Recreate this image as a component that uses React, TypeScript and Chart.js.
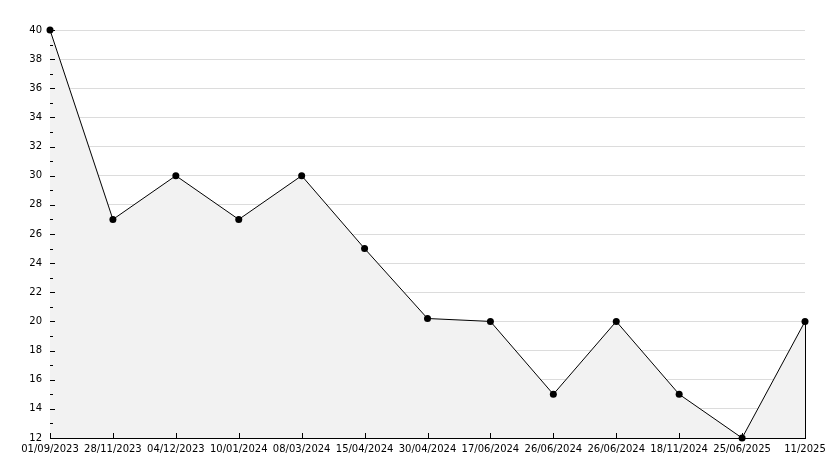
import React, { useEffect, useRef } from "react";
import { Chart, registerables } from "chart.js";

Chart.register(...registerables);

const categories = [
  "01/09/2023", "28/11/2023", "04/12/2023", "10/01/2024", "08/03/2024",
  "15/04/2024", "30/04/2024", "17/06/2024", "26/06/2024", "26/06/2024",
  "18/11/2024", "25/06/2025", "11/2025",
];
const values = [40, 27, 30, 27, 30, 25, 20.2, 20, 15, 20, 15, 12, 20];
const yMin = 12;
const yMax = 40;
const yStep = 2;

const innerTicks = {
  id: "innerTicks",
  afterDatasetsDraw(chart: any) {
    const ctx = chart.ctx;
    const { left, bottom } = chart.chartArea;
    const x = chart.scales.x;
    const y = chart.scales.y;
    ctx.save();
    ctx.strokeStyle = "#000";
    ctx.lineWidth = 1;
    ctx.beginPath();
    for (let v = yMin; v <= yMax; v += 1) {
      const py = Math.round(y.getPixelForValue(v)) + 0.5;
      const len = (v - yMin) % yStep === 0 ? 5 : 3;
      ctx.moveTo(left, py);
      ctx.lineTo(left + len, py);
    }
    for (let i = 0; i < categories.length; i++) {
      const px = Math.round(x.getPixelForValue(i)) + 0.5;
      ctx.moveTo(px, bottom);
      ctx.lineTo(px, bottom - 5);
    }
    const last = values.length - 1;
    const lx = Math.round(x.getPixelForValue(last)) + 0.5;
    ctx.moveTo(lx, y.getPixelForValue(values[last]));
    ctx.lineTo(lx, bottom);
    ctx.stroke();
    ctx.restore();
  },
};

export default function App() {
  const ref = useRef<HTMLCanvasElement>(null);
  useEffect(() => {
    document.body.style.margin = "0";
    const chart = new Chart(ref.current!, {
      type: "line",
      data: {
        labels: categories,
        datasets: [
          {
            data: values,
            borderColor: "#000",
            borderWidth: 1,
            backgroundColor: "#f2f2f2",
            fill: "start",
            tension: 0,
            clip: false,
            pointStyle: "circle",
            pointRadius: 3.5,
            pointBackgroundColor: "#000",
            pointBorderColor: "#000",
            pointBorderWidth: 0,
          },
        ],
      },
      options: {
        responsive: false,
        animation: false,
        plugins: { legend: { display: false }, tooltip: { enabled: false } },
        layout: { padding: { top: 30, right: 29, left: 0, bottom: 0 } },
        scales: {
          x: {
            offset: false,
            grid: { display: false, drawTicks: false },
            border: { display: true, color: "#000", width: 1 },
            ticks: {
              color: "#000",
              font: { family: "DejaVu Sans", size: 10 },
              padding: 5,
              maxRotation: 0,
              autoSkip: false,
            },
            afterFit: (s: any) => { s.height = 30; },
          },
          y: {
            min: yMin,
            max: yMax,
            grid: { color: "#dcdcdc", drawTicks: false },
            border: { display: true, color: "#000", width: 1 },
            ticks: {
              stepSize: yStep,
              color: "#000",
              font: { family: "DejaVu Sans", size: 10 },
              padding: 8,
            },
            afterFit: (s: any) => { s.width = 50; },
          },
        },
      },
      plugins: [innerTicks],
    });
    return () => chart.destroy();
  }, []);
  return <canvas ref={ref} width={834} height={468} style={{ display: "block" }} />;
}
